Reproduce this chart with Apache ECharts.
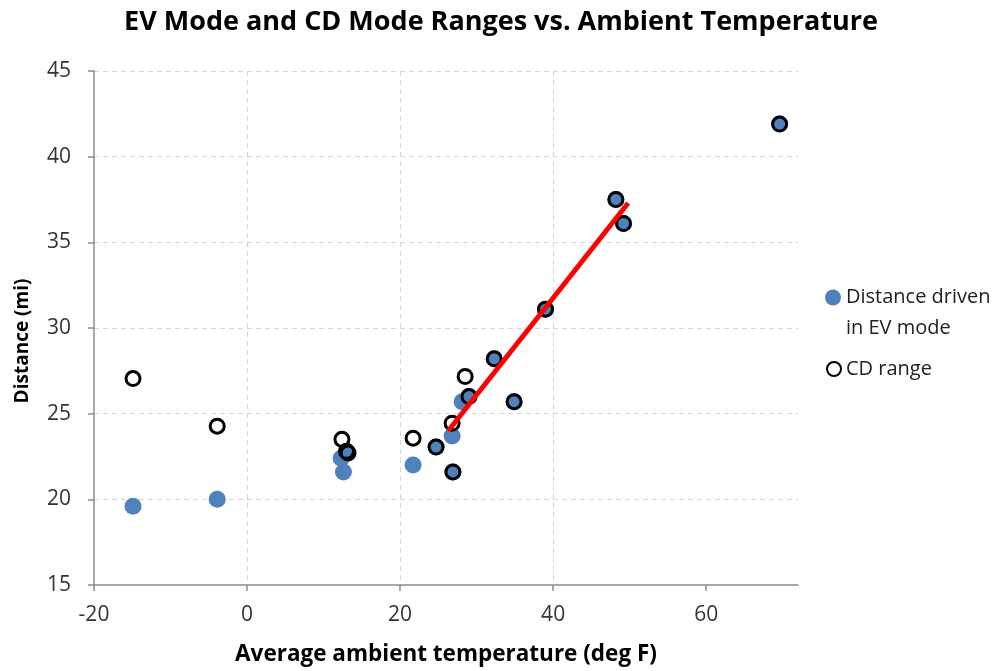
<!DOCTYPE html>
<html>
<head>
<meta charset="utf-8">
<script src="https://cdn.jsdelivr.net/npm/echarts@6/dist/echarts.min.js"></script>
<style>
  html, body { margin: 0; padding: 0; background: #fff; }
  #chart { width: 1007px; height: 671px; }
</style>
</head>
<body>
<div id="chart"></div>
<script>
// EV mode distance (blue filled)
const evTemp = [-14.9, -3.9, 12.3, 12.6, 13.1, 21.7, 24.7, 26.8, 26.9, 28.1, 29.0, 32.3, 34.9, 39.0, 48.2, 49.2, 69.6];
const evDist = [19.6, 20.0, 22.4, 21.6, 22.7, 22.0, 23.05, 23.7, 21.6, 25.7, 26.0, 28.2, 25.7, 31.1, 37.5, 36.1, 41.9];
// CD range (open circles)
const cdTemp = [-14.9, -3.9, 12.4, 13.0, 13.2, 21.7, 24.7, 26.8, 26.9, 28.5, 29.0, 32.3, 34.9, 39.0, 48.2, 49.2, 69.6];
const cdDist = [27.05, 24.27, 23.5, 22.8, 22.7, 23.57, 23.05, 24.44, 21.6, 27.17, 26.0, 28.2, 25.7, 31.1, 37.5, 36.1, 41.9];
// Trend line (red)
const trendTemp = [26.3, 49.8];
const trendDist = [24.0, 37.3];

const xTicks = [-20, 0, 20, 40, 60];
const yTicks = [15, 20, 25, 30, 35, 40, 45];
const evName = 'Distance driven\nin EV mode';
const cdName = 'CD range';

const zip = (a, b) => a.map((v, i) => [v, b[i]]);
const font = "'Open Sans', 'Liberation Sans', sans-serif";

const chart = echarts.init(document.getElementById('chart'), null, { renderer: 'canvas' });
chart.setOption({
  animation: false,
  backgroundColor: '#fff',
  title: {
    text: 'EV Mode and CD Mode Ranges vs. Ambient Temperature',
    left: 496, textAlign: 'center', top: 4,
    textStyle: { fontFamily: font, fontSize: 27, fontWeight: 'bold', color: '#000' }
  },
  legend: [
    {
      orient: 'vertical', left: 820, top: 246,
      itemWidth: 16, itemHeight: 16,
      data: [{ name: evName, icon: 'circle' }],
      formatter: (name) => '\n' + name,
      textStyle: { fontFamily: font, fontSize: 20, color: '#222', lineHeight: 31 }
    },
    {
      orient: 'vertical', left: 821, top: 349,
      itemWidth: 14, itemHeight: 14,
      data: [{ name: cdName, icon: 'circle' }],
      textStyle: { fontFamily: font, fontSize: 20, color: '#222', lineHeight: 30 }
    }
  ],
  grid: { left: 94, top: 71, right: 209, bottom: 83, containLabel: false },
  xAxis: {
    type: 'value', min: xTicks[0], max: 72, interval: 20,
    name: 'Average ambient temperature (deg F)',
    nameLocation: 'middle', nameGap: 58,
    nameTextStyle: { fontFamily: font, fontSize: 22.5, fontWeight: 'bold', color: '#000' },
    axisLine: { onZero: false, lineStyle: { color: '#8c8c8c', width: 1.5 } },
    axisTick: { show: true, length: 6, customValues: xTicks, lineStyle: { color: '#8c8c8c', width: 1.5 } },
    axisLabel: { customValues: xTicks, margin: 20, fontFamily: font, fontSize: 21, color: '#333' },
    splitLine: { show: true, showMinLine: false, showMaxLine: false, lineStyle: { color: '#d4d4d4', type: [5, 4], width: 1 } }
  },
  yAxis: {
    type: 'value', min: yTicks[0], max: yTicks[yTicks.length - 1], interval: 5,
    name: 'Distance (mi)',
    nameLocation: 'middle', nameGap: 62, nameRotate: 90,
    nameTextStyle: { fontFamily: font, fontSize: 19, fontWeight: 'bold', color: '#000', padding: [0, 26, 0, 0] },
    axisLine: { show: true, onZero: false, lineStyle: { color: '#8c8c8c', width: 1.5 } },
    axisTick: { show: true, length: 6, lineStyle: { color: '#8c8c8c', width: 1.5 } },
    axisLabel: { margin: 23, fontFamily: font, fontSize: 21, color: '#333' },
    splitLine: { show: true, showMinLine: false, lineStyle: { color: '#d4d4d4', type: [5, 4], width: 1 } }
  },
  series: [
    {
      name: evName, type: 'scatter',
      data: zip(evTemp, evDist),
      symbol: 'circle', symbolSize: 17,
      itemStyle: { color: '#4f81bd', opacity: 1 },
      z: 2
    },
    {
      name: cdName, type: 'scatter',
      data: zip(cdTemp, cdDist),
      symbol: 'circle', symbolSize: 14,
      itemStyle: { color: 'rgba(0,0,0,0)', borderColor: '#000', borderWidth: 3, opacity: 1 },
      z: 3
    },
    {
      name: 'trend', type: 'line',
      data: zip(trendTemp, trendDist),
      showSymbol: false, symbol: 'none',
      lineStyle: { color: '#ff0000', width: 5 },
      z: 4
    }
  ]
});
</script>
</body>
</html>
